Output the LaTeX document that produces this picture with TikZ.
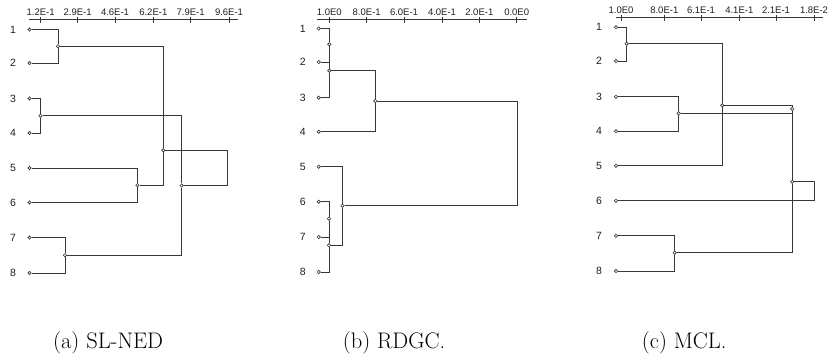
\documentclass[tikz,border=0pt]{standalone}
\usepackage{fontspec}
\newfontfamily\axisfont{Liberation Sans}
\begin{document}
\begin{tikzpicture}[x=1pt,y=-1pt,
  link/.style={draw=black!78,line width=0.95pt},
  joint/.style={circle,draw=black!78,fill=white,line width=0.65pt,inner sep=0pt,minimum size=3.4pt},
  leaflabel/.style={text=black!88,font=\axisfont\fontsize{10.5}{11}\selectfont,inner sep=0pt},
  ticklabel/.style={text=black!88,font=\axisfont\fontsize{9.5}{10}\selectfont,inner sep=0pt,anchor=base},
  axisline/.style={draw=black!78,line width=0.95pt},
  caption/.style={font=\fontsize{22.5}{26}\selectfont,inner sep=0pt,anchor=base west}]
\useasboundingbox (0,0) rectangle (833,360);

% ---------- (a) SL-NED ----------
\draw[axisline] (29,19) -- (237.7,19);
\foreach \x/\t in {40.7/1.2E-1,77.7/2.9E-1,115/4.6E-1,153.3/6.2E-1,190.7/7.9E-1,229/9.6E-1}{
  \draw[axisline] (\x,16.5) -- (\x,23);
  \node[ticklabel] at (\x,15.5) {\t};
}
\foreach \i/\y in {1/29.5,2/63,3/98.5,4/133,5/168,6/202.5,7/237.5,8/273}{
  \node[joint] (a\i) at (29.5,\y) {};
  \node[leaflabel] at (13,\y) {\i};
}
\node[joint] (a12) at (58,46.2) {};
\node[joint] (a34) at (40.5,115.7) {};
\node[joint] (a56) at (137.5,185.2) {};
\node[joint] (a78) at (65,255.2) {};
\node[joint] (aA) at (163.3,150.3) {};
\node[joint] (aB) at (181.7,185.5) {};
\coordinate (aloop) at (227.3,168);
\draw[link] (a1) -| (a12);
\draw[link] (a2) -| (a12);
\draw[link] (a3) -| (a34);
\draw[link] (a4) -| (a34);
\draw[link] (a5) -| (a56);
\draw[link] (a6) -| (a56);
\draw[link] (a7) -| (a78);
\draw[link] (a8) -| (a78);
\draw[link] (a12) -| (aA);
\draw[link] (a56) -| (aA);
\draw[link] (a34) -| (aB);
\draw[link] (a78) -| (aB);
\draw[link] (aA) -| (aloop) |- (aB);

% ---------- (b) RDGC ----------
\draw[axisline] (317,19) -- (527.3,19);
\foreach \x/\t in {329.3/1.0E0,366.7/8.0E-1,404/6.0E-1,442/4.0E-1,479.3/2.0E-1,516.7/0.0E0}{
  \draw[axisline] (\x,16.5) -- (\x,23);
  \node[ticklabel] at (\x,15.5) {\t};
}
\foreach \i/\y in {1/28.5,2/62,3/97.7,4/131.7,5/166.7,6/201.7,7/237,8/272}{
  \node[joint] (b\i) at (318.7,\y) {};
  \node[leaflabel] at (302.7,\y) {\i};
}
\node[joint] (bp1) at (329.3,44.3) {};
\node[joint] (bp2) at (329.3,70.7) {};
\node[joint] (bp3) at (375.3,101) {};
\node[joint] (bq1) at (329,218.7) {};
\node[joint] (bq2) at (329,245.3) {};
\node[joint] (bq3) at (342.5,205.7) {};
\coordinate (bloop) at (517.3,150);
\draw[link] (b1) -| (bp1);
\draw[link] (bp1) -- (bp2);
\draw[link] (b2) -| (bp2);
\draw[link] (b3) -| (bp2);
\draw[link] (bp2) -| (bp3);
\draw[link] (b4) -| (bp3);
\draw[link] (b6) -| (bq1);
\draw[link] (bq1) -- (bq2);
\draw[link] (b7) -| (bq2);
\draw[link] (b8) -| (bq2);
\draw[link] (b5) -| (bq3);
\draw[link] (bq2) -| (bq3);
\draw[link] (bp3) -| (bloop) |- (bq3);

% ---------- (c) MCL ----------
\draw[axisline] (616,17.3) -- (823.3,17.3);
\foreach \x/\t in {621/1.0E0,664.3/8.0E-1,701/6.1E-1,739.3/4.1E-1,776/2.1E-1,814/1.8E-2}{
  \draw[axisline] (\x,14.8) -- (\x,21.3);
  \node[ticklabel] at (\x,13.8) {\t};
}
\foreach \i/\y in {1/27.3,2/61,3/96.7,4/131.3,5/165.7,6/200.7,7/235.7,8/271}{
  \node[joint] (c\i) at (616,\y) {};
  \node[leaflabel] at (599,\y) {\i};
}
\node[joint] (c12) at (626.7,43.7) {};
\node[joint] (c125) at (722.3,105.3) {};
\node[joint] (c34) at (678.7,113.3) {};
\node[joint] (c78) at (674.7,252.7) {};
\node[joint] (cs1) at (792.2,108.9) {};
\node[joint] (cs2) at (792.2,181.7) {};
\coordinate (cloop) at (814.3,190);
\draw[link] (c1) -| (c12);
\draw[link] (c2) -| (c12);
\draw[link] (c12) -| (c125);
\draw[link] (c5) -| (c125);
\draw[link] (c3) -| (c34);
\draw[link] (c4) -| (c34);
\draw[link] (c7) -| (c78);
\draw[link] (c8) -| (c78);
\draw[link] (c125) -| (cs1);
\draw[link] (cs1) -- (cs2);
\draw[link] (c34) -| (cs2);
\draw[link] (c78) -| (cs2);
\draw[link] (cs2) -| (cloop) |- (c6);

% ---------- captions ----------
\node[caption] (capa) at (53,348.5) {(a) SL-NED};
\node[caption] (capb) at (342.7,348.5) {(b) RDGC.};
\node[caption] (capc) at (641.7,348.5) {(c) MCL.};
\end{tikzpicture}
\end{document}
